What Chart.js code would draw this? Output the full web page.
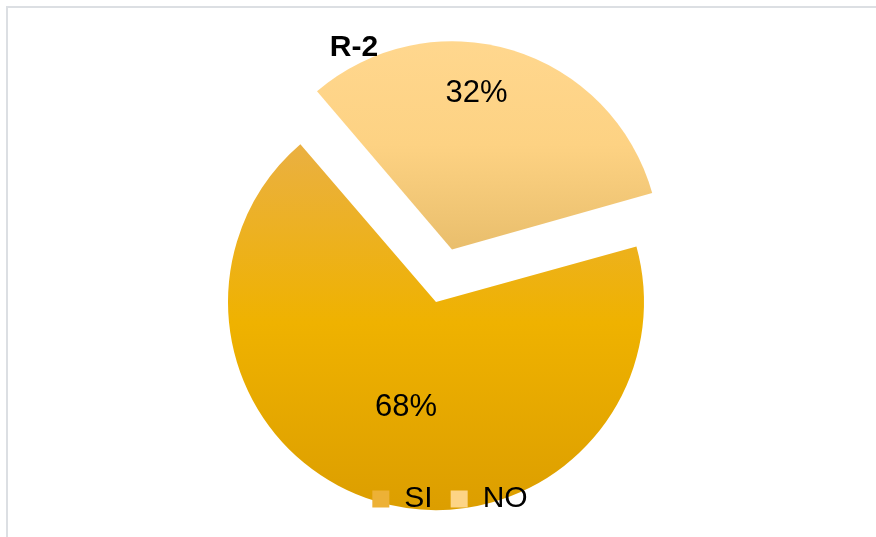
<!DOCTYPE html>
<html>
<head>
<meta charset="utf-8">
<script src="https://cdn.jsdelivr.net/npm/chart.js@4.4.1/dist/chart.umd.min.js"></script>
<style>
  html, body { margin: 0; padding: 0; background: #fff; }
  #chart { display: block; }
</style>
</head>
<body>
<canvas id="chart" width="876" height="537"></canvas>
<script>
const chartTitle = 'R-2';
const categories = ['SI', 'NO'];
const shares = [68, 32];

// legend swatches (solid approximations of the slice gradients)
const legendSwatch = ['#EDB136', '#FDD486'];

// vertical gradient stops per slice, 0 = top of the pie, 1 = bottom
const sliceStops = [
  [[0, '#E8B04C'], [0.12, '#EAB042'], [0.55, '#EFB200'], [1, '#DC9E00']],
  [[0, '#FFD78E'], [0.25, '#FDD283'], [0.5, '#E9BE6C'], [1, '#E0B060']]
];

const PIE_X = 436, PIE_Y = 302, PIE_R = 208;
const NO_SHIFT = 55; // how far the NO slice is pulled out

const FONT = '"Liberation Sans", Arial, sans-serif';

function sliceFill(ctx) {
  const chart = ctx.chart;
  if (!chart.chartArea) return legendSwatch[ctx.dataIndex];
  const g = chart.ctx.createLinearGradient(0, PIE_Y - PIE_R, 0, PIE_Y + PIE_R);
  sliceStops[ctx.dataIndex].forEach(([p, c]) => g.addColorStop(p, c));
  return g;
}

const frame = {
  id: 'frame',
  beforeDraw(chart) {
    const c = chart.ctx;
    c.save();
    c.fillStyle = '#fff';
    c.fillRect(0, 0, chart.width, chart.height);
    c.strokeStyle = '#DCDFE3';
    c.lineWidth = 2;
    c.strokeRect(7, 7, chart.width + 20, chart.height + 20);
    c.restore();
  }
};

// put the pie centre where the original has it
const placePie = {
  id: 'placePie',
  afterLayout(chart) {
    const a = chart.chartArea;
    const dx = PIE_X - (a.left + a.right) / 2;
    const dy = PIE_Y - (a.top + a.bottom) / 2;
    a.left += dx; a.right += dx;
    a.top += dy; a.bottom += dy;
  },
  afterDatasetUpdate(chart) {
    // chart.js grows an exploded arc's radius a bit; keep it the same as the rest
    const meta = chart.getDatasetMeta(0);
    const offs = chart.data.datasets[0].offset;
    meta.data.forEach((arc, i) => {
      const o = (offs[i] || 0) / 4;
      if (!o) return;
      const fix = 1 - Math.sin(Math.min(Math.PI, arc.circumference));
      arc.outerRadius = PIE_R - o * fix;
    });
  }
};

// legend sits on top of the pie in the original
const legendOnTop = {
  id: 'legendOnTop',
  beforeDraw(chart) { chart.legend.options.display = false; },
  afterDatasetsDraw(chart) {
    chart.legend.options.display = true;
    chart.legend.draw();
  }
};

const pctLabels = {
  id: 'pctLabels',
  afterDatasetsDraw(chart, args, opts) {
    const meta = chart.getDatasetMeta(0);
    const offs = chart.data.datasets[0].offset;
    const total = shares.reduce((s, v) => s + v, 0);
    const c = chart.ctx;
    c.save();
    c.font = opts.size + 'px ' + FONT;
    c.fillStyle = '#000';
    c.textAlign = 'center';
    c.textBaseline = 'middle';
    meta.data.forEach((arc, i) => {
      const mid = (arc.startAngle + arc.endAngle) / 2;
      const shift = (offs[i] || 0) / 4;
      const bx = arc.x + Math.cos(mid) * shift;
      const by = arc.y + Math.sin(mid) * shift;
      const a = mid + opts.turn[i] * Math.PI / 180;
      const r = PIE_R * opts.depth[i];
      c.fillText(Math.round(shares[i] / total * 100) + '%', bx + Math.cos(a) * r, by + Math.sin(a) * r);
    });
    c.restore();
  }
};

const titleText = {
  id: 'titleText',
  afterDraw(chart) {
    const c = chart.ctx;
    c.save();
    c.font = 'bold 30px ' + FONT;
    c.fillStyle = '#000';
    c.textAlign = 'center';
    c.textBaseline = 'middle';
    c.fillText(chartTitle, 354, 48);
    c.restore();
  }
};

new Chart(document.getElementById('chart'), {
  type: 'pie',
  data: {
    labels: categories,
    datasets: [{
      data: shares,
      backgroundColor: sliceFill,
      borderWidth: 0,
      offset: [0, NO_SHIFT * 4],
      radius: PIE_R,
      clip: false
    }]
  },
  options: {
    responsive: false,
    animation: false,
    rotation: 74.5,
    layout: { padding: { top: 0, left: 24, right: 0, bottom: 13 } },
    plugins: {
      legend: {
        position: 'bottom',
        labels: {
          font: { family: FONT, size: 30, lineHeight: 1 },
          color: '#000',
          boxWidth: 17,
          boxHeight: 17,
          padding: 18,
          generateLabels: () => categories.map((name, i) => ({
            text: name,
            fillStyle: legendSwatch[i],
            strokeStyle: legendSwatch[i],
            lineWidth: 0,
            hidden: false,
            index: i
          }))
        }
      },
      tooltip: { enabled: false },
      pctLabels: { size: 31, turn: [-1, -8], depth: [0.525, 0.76] }
    }
  },
  plugins: [frame, placePie, legendOnTop, pctLabels, titleText]
});
</script>
</body>
</html>
